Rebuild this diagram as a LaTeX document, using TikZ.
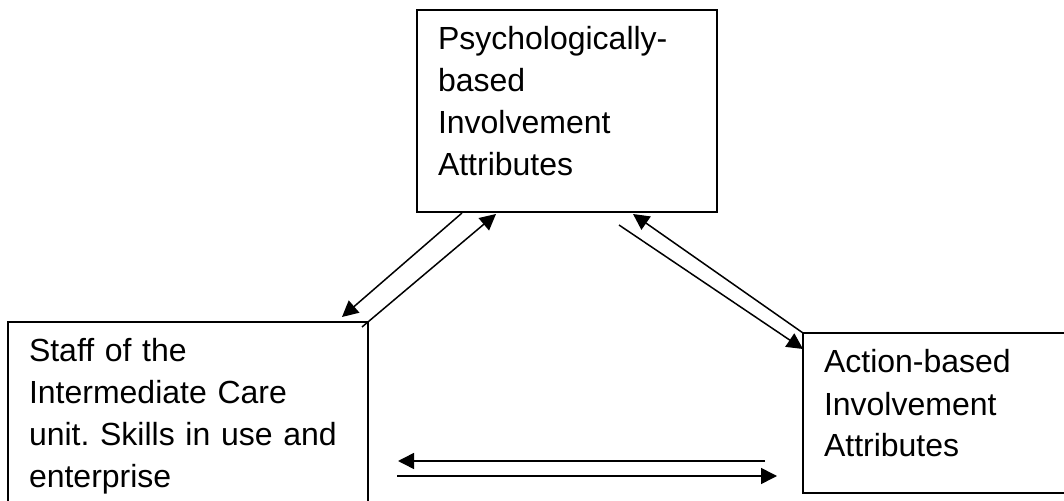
\documentclass[tikz,border=0pt]{standalone}
\usepackage{fontspec}
\setmainfont{Liberation Sans}
\usepackage{tikz}
\usetikzlibrary{calc,arrows.meta}
\tikzset{
  box/.style={draw=black, line width=0.9pt, anchor=north west, align=left,
    inner xsep=10.5pt, inner ysep=0pt, outer sep=0pt,
    font=\fontsize{16pt}{21pt}\selectfont\frenchspacing},
  link/.style={-{Triangle[length=8pt,width=8pt]}, draw=black, line width=0.75pt}
}
\newcommand{\topstrut}{\rule{0pt}{20pt}}
\newcommand{\botstrut}{\rule[-18pt]{0pt}{18pt}}

\begin{document}
\begin{tikzpicture}[x=0.5pt, y=-0.5pt]
  \useasboundingbox (0,0) rectangle (1064,501);
  \clip (0,0) rectangle (1064,501);
  % the three boxes
  \node[box, text width=129pt] (psych) at (417,10)
    {\topstrut Psychologically-\\based\\Involvement\\Attributes\botstrut};
  \node[box, text width=159pt] (staff) at (8,322)
    {\topstrut Staff of the\\Intermediate Care\\unit. Skills in use and\\enterprise\botstrut};
  \node[box, text width=118pt] (action) at (803,333)
    {\topstrut Action-based\\Involvement\\Attributes\botstrut};
  % links between psych and staff
  \draw[link] ($(psych.south west)+(45,1)$) -- ($(staff.north east)+(-26,-5)$);
  \draw[link] ($(staff.north east)+(-6,5)$) -- ($(psych.south west)+(79,2)$);
  % links between psych and action
  \draw[link] (action.north west) -- ($(psych.south east)+(-84,2)$);
  \draw[link] ($(psych.south east)+(-98,13)$) -- ($(action.north west)+(0,16)$);
  % links between staff and action
  \draw[link] ($(action.south west)+(-38,-32)$) -- ($(staff.north east)+(30,139)$);
  \draw[link] ($(staff.north east)+(29,154)$) -- ($(action.south west)+(-26,-17)$);
\end{tikzpicture}
\end{document}
